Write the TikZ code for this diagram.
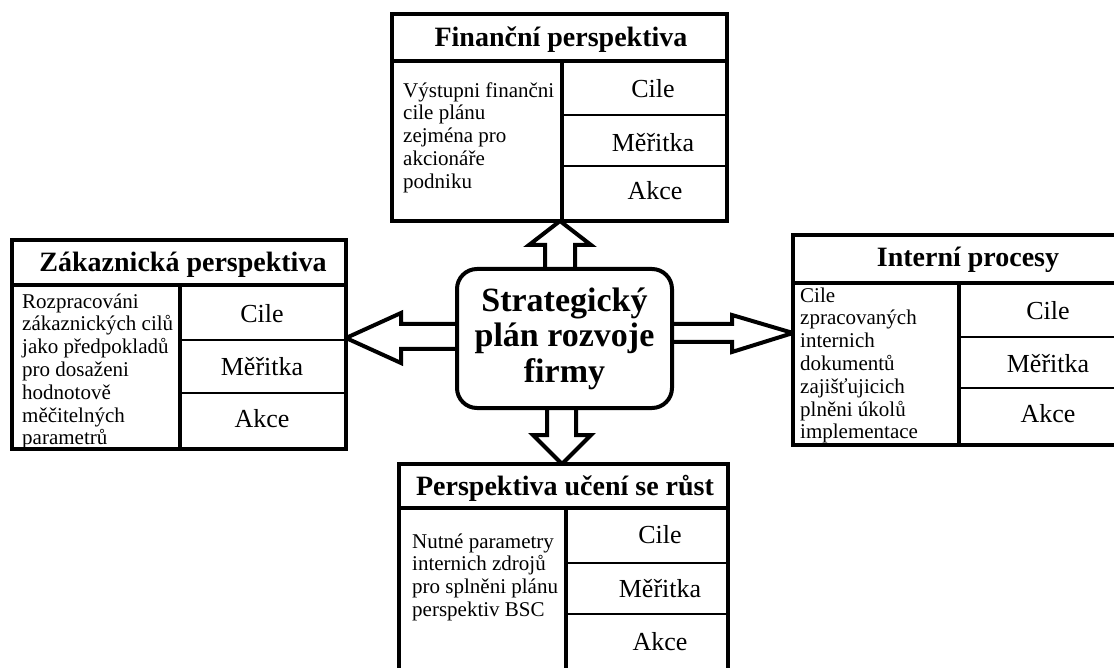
\documentclass[tikz,border=0pt]{standalone}
\usepackage{fontspec}
\setmainfont{Liberation Serif}
\usetikzlibrary{backgrounds}
\tikzset{
  frame/.style={draw, line width=4.5pt, fill=white, inner sep=0pt, outer sep=0pt, anchor=north west},
  heavy rule/.style={line width=4pt},
  light rule/.style={line width=1.5pt},
  head/.style={font=\bfseries\fontsize{28}{30}\selectfont, anchor=base, inner sep=0pt},
  cell/.style={font=\fontsize{26}{28}\selectfont, anchor=base, inner sep=0pt},
  note/.style={font=\fontsize{21}{22.8}\selectfont, anchor=north west, inner sep=0pt, align=left},
  planbox/.style={draw, line width=4pt, rounded corners=20pt, fill=white, inner sep=0pt, outer sep=0pt,
    minimum width=215pt, minimum height=139pt, align=center, font=\bfseries\fontsize{34}{35.5}\selectfont},
  hollow/.style={draw, line width=4pt, fill=white, line join=miter}
}
\begin{document}
\begin{tikzpicture}[x=1pt,y=-1pt]
\useasboundingbox (0,0) rectangle (1114,668);
\clip (0,0) rectangle (1114,668);

% --- financial perspective (top) ---
\node[frame, minimum width=335pt, minimum height=207pt] (fin) at (392,14) {};
\draw[heavy rule] (392,61) -- (727,61);
\draw[heavy rule] (562,61) -- (562,221);
\draw[light rule] (562,115) -- (727,115);
\draw[light rule] (562,166) -- (727,166);
\node[head] (finH) at (561,47) {Finanční perspektiva};
\node[note] (finN) at (403,81) {\strut Výstupni finančni\\cile plánu\\zejména pro\\akcionáře\\podniku};
\node[cell] (finC) at (653,98) {Cile};
\node[cell] (finM) at (653,152) {Měřitka};
\node[cell] (finA) at (655,200) {Akce};

% --- customer perspective (left) ---
\node[frame, minimum width=334pt, minimum height=209pt] (zak) at (12,240) {};
\draw[heavy rule] (12,285) -- (346,285);
\draw[heavy rule] (180,285) -- (180,449);
\draw[light rule] (180,340) -- (346,340);
\draw[light rule] (180,393) -- (346,393);
\node[head] (zakH) at (183,272) {Zákaznická perspektiva};
\node[note] (zakN) at (22,292) {\strut Rozpracováni\\zákaznických cilů\\jako předpokladů\\pro dosaženi\\hodnotově\\měčitelných\\parametrů};
\node[cell] (zakC) at (262,323) {Cile};
\node[cell] (zakM) at (262,375) {Měřitka};
\node[cell] (zakA) at (262,427) {Akce};

% --- internal processes (right) ---
\node[frame, minimum width=342pt, minimum height=210pt] (int) at (793,235) {};
\draw[heavy rule] (793,283) -- (1135,283);
\draw[heavy rule] (959,283) -- (959,445);
\draw[light rule] (959,337) -- (1135,337);
\draw[light rule] (959,388) -- (1135,388);
\node[head] (intH) at (968,267) {Interní procesy};
\node[note] (intN) at (800,286) {\strut Cile\\zpracovaných\\internich\\dokumentů\\zajišťujicich\\plněni úkolů\\implementace};
\node[cell] (intC) at (1048,320) {Cile};
\node[cell] (intM) at (1048,372) {Měřitka};
\node[cell] (intA) at (1048,422) {Akce};

% --- learning and growth (bottom) ---
\node[frame, minimum width=329pt, minimum height=211pt] (uce) at (399,464) {};
\draw[heavy rule] (399,508) -- (728,508);
\draw[heavy rule] (566,508) -- (566,675);
\draw[light rule] (566,563) -- (728,563);
\draw[light rule] (566,614) -- (728,614);
\node[head] (uceH) at (565,495) {Perspektiva učení se růst};
\node[note] (uceN) at (412,532) {\strut Nutné parametry\\internich zdrojů\\pro splněni plánu\\perspektiv BSC};
\node[cell] (uceC) at (660,543) {Cile};
\node[cell] (uceM) at (660,597) {Měřitka};
\node[cell] (uceA) at (660,650) {Akce};

% --- central strategic plan ---
\node[planbox] (plan) at (564.5,338.5) {Strategický\\plán rozvoje\\firmy};

% --- hollow block arrows from the plan to each perspective ---
\begin{pgfonlayer}{background}
\draw[hollow] (plan.north -| 545,0) -- (545,245) -- (529,245) -- (fin.south -| 560,0)
  -- (591,245) -- (575,245) -- (plan.north -| 575,0);
\draw[hollow] (plan.south -| 547,0) -- (547,435) -- (533,435) -- (uce.north -| 562,0)
  -- (591,435) -- (576,435) -- (plan.south -| 576,0);
\draw[hollow] (plan.west |- 0,324) -- (401,324) -- (401,313) -- (zak.east |- 0,338)
  -- (401,363) -- (401,349) -- (plan.west |- 0,349);
\draw[hollow] (plan.east |- 0,324) -- (732,324) -- (732,315) -- (int.west |- 0,333)
  -- (732,352) -- (732,342) -- (plan.east |- 0,342);
\end{pgfonlayer}
\end{tikzpicture}
\end{document}
